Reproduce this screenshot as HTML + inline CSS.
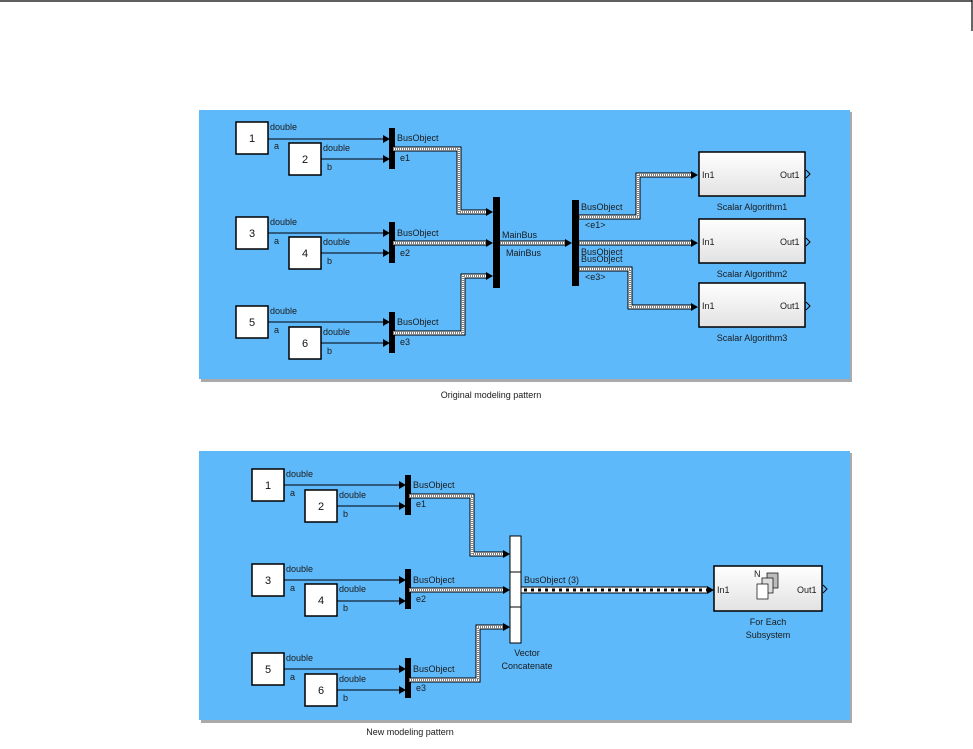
<!DOCTYPE html>
<html><head><meta charset="utf-8"><style>
html,body{margin:0;padding:0;background:#fff;}
svg{display:block;font-family:"Liberation Sans",Arial,sans-serif;}
.t{font-size:9px;fill:#1a1a1a;}
.c{font-size:9px;fill:#1a1a1a;text-anchor:middle;}
.n{font-size:11px;fill:#111;text-anchor:middle;}
.blk{fill:#fff;stroke:#000;stroke-width:1.5;}
.sig{stroke:#000;stroke-width:1;fill:none;}
.b1{stroke:#000;stroke-width:5;fill:none;}
.b2{stroke:#fff;stroke-width:3;fill:none;}
.b3{stroke:#000;stroke-width:1;stroke-dasharray:1 1;fill:none;}
.d1{stroke:#000;stroke-width:7;fill:none;}
.d2{stroke:#fff;stroke-width:5;fill:none;}
.d3{stroke:#000;stroke-width:3;stroke-dasharray:3 4;fill:none;}
</style></head><body>
<svg width="973" height="749" viewBox="0 0 973 749" xmlns="http://www.w3.org/2000/svg">
<defs>
<linearGradient id="g" x1="0" y1="0" x2="0" y2="1"><stop offset="0" stop-color="#fff"/><stop offset="1" stop-color="#e2e2e2"/></linearGradient>
</defs>
<line x1="0" y1="1" x2="972" y2="1" stroke="#000" stroke-width="1.2"/>
<line x1="972" y1="0" x2="972" y2="31" stroke="#000" stroke-width="1.2"/>

<!-- PANEL 1 -->
<rect x="201" y="112" width="651" height="270" fill="#aaa"/>
<rect x="199" y="110" width="651" height="269" fill="#5eb9fb"/>

<g>
<rect class="blk" x="236" y="122" width="32" height="32"/><text class="n" x="252" y="142">1</text>
<rect class="blk" x="289" y="143" width="32" height="32"/><text class="n" x="305" y="163">2</text>
<rect class="blk" x="236" y="217" width="32" height="32"/><text class="n" x="252" y="237">3</text>
<rect class="blk" x="289" y="237" width="32" height="32"/><text class="n" x="305" y="257">4</text>
<rect class="blk" x="236" y="306" width="32" height="32"/><text class="n" x="252" y="326">5</text>
<rect class="blk" x="289" y="327" width="32" height="32"/><text class="n" x="305" y="347">6</text>
</g>
<g class="sig">
<path d="M268 139H384M321 159H384M268 233H384M321 253H384M268 322H384M321 343H384"/>
</g>
<g fill="#000">
<path d="M383 135L390 139L383 143Z M383 155L390 159L383 163Z M383 229L390 233L383 237Z M383 249L390 253L383 257Z M383 318L390 322L383 326Z M383 339L390 343L383 347Z"/>
</g>
<g class="t">
<text x="270" y="130">double</text><text x="274" y="149">a</text>
<text x="323" y="151">double</text><text x="327" y="170">b</text>
<text x="270" y="225">double</text><text x="274" y="244">a</text>
<text x="323" y="245">double</text><text x="327" y="264">b</text>
<text x="270" y="314">double</text><text x="274" y="333">a</text>
<text x="323" y="335">double</text><text x="327" y="354">b</text>
<text x="397" y="141">BusObject</text><text x="400" y="161">e1</text>
<text x="397" y="236">BusObject</text><text x="400" y="256">e2</text>
<text x="397" y="325">BusObject</text><text x="400" y="345">e3</text>
</g>
<rect x="389" y="128" width="6" height="41" fill="#000"/>
<rect x="389" y="222" width="6" height="41" fill="#000"/>
<rect x="389" y="312" width="6" height="41" fill="#000"/>

<g>
<path class="b1" d="M393 149H459V212H487"/><path class="b2" d="M393 149H459V212H487"/><path class="b3" d="M393 149H459V212H487"/>
<path class="b1" d="M393 243H487"/><path class="b2" d="M393 243H487"/><path class="b3" d="M393 243H487"/>
<path class="b1" d="M393 333H463V276H487"/><path class="b2" d="M393 333H463V276H487"/><path class="b3" d="M393 333H463V276H487"/>
<path class="b1" d="M498 243H566"/><path class="b2" d="M498 243H566"/><path class="b3" d="M498 243H566"/>
<path class="b1" d="M577 217H638V175H691"/><path class="b2" d="M577 217H638V175H691"/><path class="b3" d="M577 217H638V175H691"/>
<path class="b1" d="M577 243H691"/><path class="b2" d="M577 243H691"/><path class="b3" d="M577 243H691"/>
<path class="b1" d="M577 269H630V307H691"/><path class="b2" d="M577 269H630V307H691"/><path class="b3" d="M577 269H630V307H691"/>
</g>
<g fill="#000">
<path d="M486 208L493 212L486 216Z M486 239L493 243L486 247Z M486 272L493 276L486 280Z M565 239L572 243L565 247Z M691 171L698 175L691 179Z M691 239L698 243L691 247Z M691 303L698 307L691 311Z"/>
</g>
<rect x="493" y="197" width="7" height="91" fill="#000"/>
<rect x="572" y="200" width="7" height="86" fill="#000"/>
<g class="t">
<text x="502" y="238">MainBus</text><text x="506" y="256">MainBus</text>
<text x="581" y="210">BusObject</text><text x="585" y="228">&lt;e1&gt;</text>
<text x="581" y="255">BusObject</text><text x="581" y="262">BusObject</text>
<text x="585" y="280">&lt;e3&gt;</text>
</g>
<g>
<rect x="699" y="152" width="106" height="44" fill="url(#g)" stroke="#000" stroke-width="1.5"/>
<rect x="699" y="219" width="106" height="44" fill="url(#g)" stroke="#000" stroke-width="1.5"/>
<rect x="699" y="283" width="106" height="44" fill="url(#g)" stroke="#000" stroke-width="1.5"/>
<path d="M806 170L810 174L806 178M806 238L810 242L806 246M806 302L810 306L806 310" stroke="#000" fill="none"/>
</g>
<g class="t">
<text x="702" y="178">In1</text><text x="780" y="178">Out1</text>
<text x="702" y="245">In1</text><text x="780" y="245">Out1</text>
<text x="702" y="309">In1</text><text x="780" y="309">Out1</text>
</g>
<g class="c">
<text x="752" y="210">Scalar Algorithm1</text>
<text x="752" y="277">Scalar Algorithm2</text>
<text x="752" y="341">Scalar Algorithm3</text>
<text x="491" y="398">Original modeling pattern</text>
</g>

<!-- PANEL 2 -->
<rect x="201" y="453" width="651" height="270" fill="#aaa"/>
<rect x="199" y="451" width="651" height="269" fill="#5eb9fb"/>
<g>
<rect class="blk" x="252" y="469" width="32" height="32"/><text class="n" x="268" y="489">1</text>
<rect class="blk" x="305" y="490" width="32" height="32"/><text class="n" x="321" y="510">2</text>
<rect class="blk" x="252" y="564" width="32" height="32"/><text class="n" x="268" y="584">3</text>
<rect class="blk" x="305" y="584" width="32" height="32"/><text class="n" x="321" y="604">4</text>
<rect class="blk" x="252" y="653" width="32" height="32"/><text class="n" x="268" y="673">5</text>
<rect class="blk" x="305" y="674" width="32" height="32"/><text class="n" x="321" y="694">6</text>
</g>
<g class="sig">
<path d="M284 485H400M337 506H400M284 580H400M337 601H400M284 669H400M337 690H400"/>
</g>
<g fill="#000">
<path d="M399 481L406 485L399 489Z M399 502L406 506L399 510Z M399 576L406 580L399 584Z M399 597L406 601L399 605Z M399 665L406 669L399 673Z M399 686L406 690L399 694Z"/>
</g>
<g class="t">
<text x="286" y="477">double</text><text x="290" y="496">a</text>
<text x="339" y="498">double</text><text x="343" y="517">b</text>
<text x="286" y="572">double</text><text x="290" y="591">a</text>
<text x="339" y="592">double</text><text x="343" y="611">b</text>
<text x="286" y="661">double</text><text x="290" y="680">a</text>
<text x="339" y="682">double</text><text x="343" y="701">b</text>
<text x="413" y="488">BusObject</text><text x="416" y="507">e1</text>
<text x="413" y="583">BusObject</text><text x="416" y="602">e2</text>
<text x="413" y="672">BusObject</text><text x="416" y="691">e3</text>
</g>
<rect x="405" y="475" width="6" height="40" fill="#000"/>
<rect x="405" y="569" width="6" height="40" fill="#000"/>
<rect x="405" y="658" width="6" height="40" fill="#000"/>
<g>
<path class="b1" d="M409 496H472V554H503"/><path class="b2" d="M409 496H472V554H503"/><path class="b3" d="M409 496H472V554H503"/>
<path class="b1" d="M409 590H503"/><path class="b2" d="M409 590H503"/><path class="b3" d="M409 590H503"/>
<path class="b1" d="M409 680H478V627H503"/><path class="b2" d="M409 680H478V627H503"/><path class="b3" d="M409 680H478V627H503"/>
<path class="d1" d="M521 590H707"/><path class="d2" d="M521 590H707"/><path class="d3" d="M524 590H707"/>
</g>
<g fill="#000">
<path d="M503 550L510 554L503 558Z M503 586L510 590L503 594Z M503 623L510 627L503 631Z M707 586L714 590L707 594Z"/>
</g>
<rect x="510" y="536" width="11" height="107" fill="#fff" stroke="#000"/>
<line x1="510" y1="572" x2="521" y2="572" stroke="#000"/>
<line x1="510" y1="607" x2="521" y2="607" stroke="#000"/>
<text class="t" x="524" y="583">BusObject (3)</text>
<text class="c" x="527" y="656">Vector</text>
<text class="c" x="527" y="669">Concatenate</text>
<rect x="714" y="566" width="108" height="45" fill="url(#g)" stroke="#000" stroke-width="1.5"/>
<path d="M823 585L827 589L823 593" stroke="#000" fill="none"/>
<text class="t" x="717" y="593">In1</text><text class="t" x="797" y="593">Out1</text>
<rect x="767" y="573" width="11" height="15" fill="#bbb" stroke="#000" stroke-width="0.7"/>
<rect x="762" y="578" width="11" height="15" fill="#ddd" stroke="#000" stroke-width="0.7"/>
<rect x="757" y="584" width="11" height="15" fill="#fff" stroke="#000" stroke-width="0.7"/>
<text class="t" x="754" y="577">N</text>
<text class="c" x="768" y="625">For Each</text>
<text class="c" x="768" y="638">Subsystem</text>
<text class="c" x="410" y="735">New modeling pattern</text>
</svg>
</body></html>
